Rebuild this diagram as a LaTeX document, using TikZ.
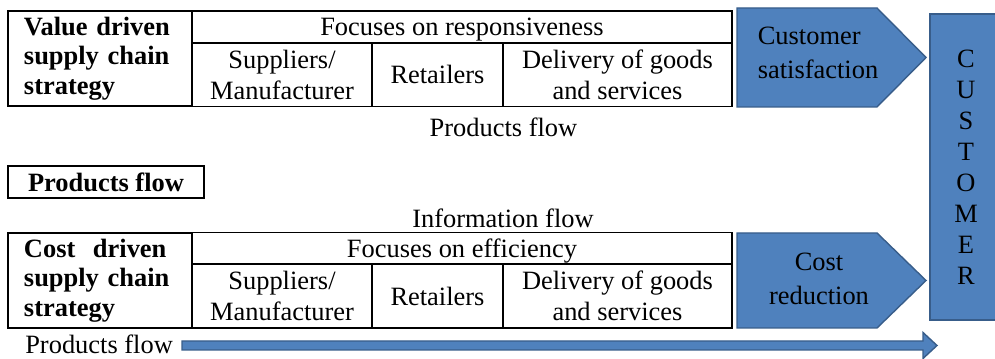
\documentclass[tikz,border=0pt]{standalone}
\usepackage{fontspec}
\setmainfont{Liberation Serif}
\usetikzlibrary{positioning}
\definecolor{chainblue}{HTML}{4F81BD}
\definecolor{chainedge}{HTML}{385D8A}
\newcommand{\chainfont}{\fontsize{18.8}{22}\selectfont}

\begin{document}
\begin{tikzpicture}[
  x=0.025cm, y=-0.025cm,
  cell/.style={draw, line width=1pt, inner sep=0pt, align=center, font=\chainfont},
  stratcell/.style={cell, minimum width=4.6cm, minimum height=2.375cm, text width=3.8cm, align=left,
                    font=\fontsize{18.8}{21}\selectfont\bfseries},
  headcell/.style={cell, minimum width=13.5cm, minimum height=0.8cm, text depth=0pt},
  subcell/.style={cell, minimum width=#1, minimum height=1.6cm},
  block/.style={fill=chainblue, draw=chainedge, line width=1pt, line join=miter},
  blocktext/.style={align=#1, inner sep=0pt, font=\fontsize{18.8}{24}\selectfont},
  flowlbl/.style={inner sep=0pt, font=\chainfont},
]
\useasboundingbox (0,0) rectangle (995,359);
% === Value driven chain ===
\node[stratcell] (Vstrat) at (100,58.5) {Value driven\\supply chain\\strategy};
\node[headcell] (Vfocus) at (462,27) {Focuses on responsiveness};
\node[subcell=4.5cm] (Vsup) at (282,74.5) {Suppliers/\\Manufacturer};
\node[subcell=3.275cm, text depth=0pt] (Vret) at (437.5,74.5) {Retailers};
\node[subcell=5.725cm] (Vdel) at (617.5,74.5) {Delivery of goods\\and services};
\draw[block] (737,8) -- (877,8) -- (926,57.5) -- (877,107) -- (737,107) -- cycle;
\node[blocktext=left] (Vsat) at (818,53) {Customer\\satisfaction};
\node[flowlbl] (Vflow) at (503.5,127) {Products flow};
% === Legend and information flow ===
\node[cell, minimum width=4.9cm, minimum height=0.8cm, font=\chainfont\bfseries] (flowbox) at (106,182) {Products flow};
\node[flowlbl] (infoflow) at (503,218) {Information flow};
% === Cost driven chain ===
\node[stratcell] (Cstrat) at (100,280.5) {Cost~~driven\\supply chain\\strategy};
\node[headcell] (Cfocus) at (462,248.5) {Focuses on efficiency};
\node[subcell=4.5cm] (Csup) at (282,296) {Suppliers/\\Manufacturer};
\node[subcell=3.275cm, text depth=0pt] (Cret) at (437.5,296) {Retailers};
\node[subcell=5.725cm] (Cdel) at (617.5,296) {Delivery of goods\\and services};
\draw[block] (737,233) -- (877,233) -- (926,280.5) -- (877,328) -- (737,328) -- cycle;
\node[blocktext=center] (Ccut) at (819,279) {Cost\\reduction};
% === Customer column and bottom flow ===
\node[block, minimum width=1.8cm, minimum height=7.65cm, inner sep=0pt, align=center,
      font=\fontsize{18.8}{22}\selectfont] (cust) at (966,167) {C\\U\\S\\T\\O\\M\\E\\R};
\node[flowlbl, anchor=west] (Cflow) at (25,344) {Products flow};
\draw[block] (182,341) -- (923,341) -- (923,332.5) -- (937,345.5) -- (923,358.5) -- (923,350) -- (182,350) -- cycle;
\end{tikzpicture}
\end{document}
